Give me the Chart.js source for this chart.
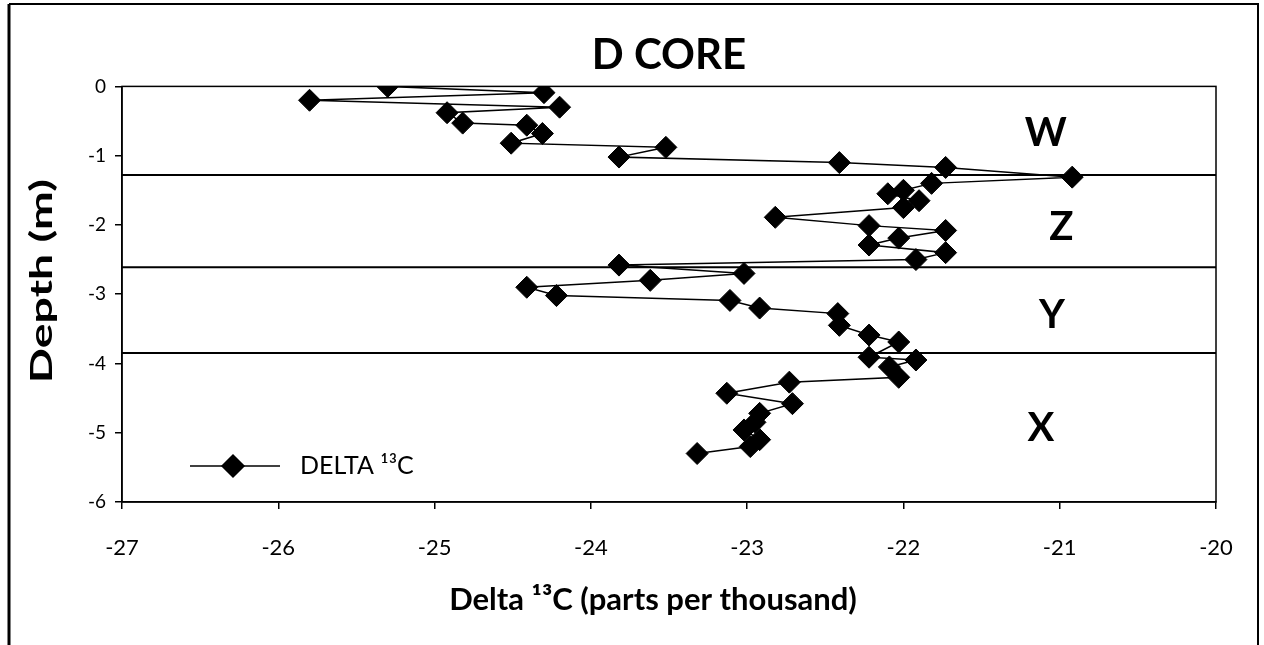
<!DOCTYPE html>
<html>
<head>
<meta charset="utf-8">
<script src="https://cdn.jsdelivr.net/npm/chart.js@4/dist/chart.umd.min.js"></script>
<style>
  html, body { margin: 0; padding: 0; background: #fff; }
  #wrap { width: 1264px; height: 645px; position: relative; }
</style>
</head>
<body>
<div id="wrap"><canvas id="chart" width="1264" height="645"></canvas></div>
<script>
// depth (m) and delta 13C values, read top to bottom
const depth = [0, -0.09, -0.2, -0.3, -0.38, -0.53, -0.56, -0.68, -0.82, -0.88,
  -1.02, -1.10, -1.17, -1.31, -1.40, -1.50, -1.55, -1.65, -1.75, -1.89,
  -2.01, -2.08, -2.19, -2.29, -2.40, -2.50, -2.58, -2.70, -2.80, -2.90,
  -3.02, -3.09, -3.20, -3.28, -3.45, -3.59, -3.69, -3.91, -3.95, -4.05,
  -4.20, -4.27, -4.43, -4.58, -4.72, -4.85, -4.96, -5.10, -5.20, -5.30];
const delta13C = [-25.3, -24.3, -25.8, -24.2, -24.92, -24.82, -24.41, -24.31, -24.51, -23.52,
  -23.82, -22.41, -21.73, -20.92, -21.82, -22.0, -22.1, -21.9, -22.0, -22.82,
  -22.22, -21.73, -22.03, -22.22, -21.73, -21.92, -23.82, -23.02, -23.62, -24.41,
  -24.22, -23.11, -22.92, -22.42, -22.41, -22.22, -22.03, -22.22, -21.92, -22.09,
  -22.03, -22.73, -23.13, -22.71, -22.92, -22.95, -23.02, -22.92, -22.98, -23.32];

// zone boundaries and zone names
const boundaryDepths = [-1.28, -2.61, -3.85];
const zoneNames = ['W', 'Z', 'Y', 'X'];
const zoneDepths = [-0.68, -2.03, -3.30, -4.94];
const zoneX = [-21.09, -20.99, -21.05, -21.12];

const xTicks = [-27, -26, -25, -24, -23, -22, -21, -20];
const yTicks = [0, -1, -2, -3, -4, -5, -6];

const FONT = 'Lato, "Open Sans", sans-serif';

const points = depth.map((d, i) => ({ x: delta13C[i], y: d }));

const boundarySets = boundaryDepths.map((b) => ({
  label: 'boundary',
  data: [{ x: xTicks[0], y: b }, { x: xTicks[xTicks.length - 1], y: b }],
  showLine: true,
  borderColor: '#000',
  borderWidth: 2,
  pointRadius: 0,
  pointHoverRadius: 0,
}));

const decorPlugin = {
  id: 'decor',
  afterDraw(chart) {
    const { ctx, chartArea, scales } = chart;
    ctx.save();
    // plot area box
    ctx.strokeStyle = '#000';
    ctx.lineWidth = 1.5;
    ctx.strokeRect(chartArea.left, chartArea.top, chartArea.right - chartArea.left, chartArea.bottom - chartArea.top);

    // outer frame
    ctx.beginPath();
    ctx.lineWidth = 3;
    ctx.moveTo(9, 645);
    ctx.lineTo(9, 4);
    ctx.stroke();
    ctx.beginPath();
    ctx.lineWidth = 2;
    ctx.moveTo(9, 4);
    ctx.lineTo(1258, 4);
    ctx.lineTo(1258, 645);
    ctx.stroke();

    // zone names
    ctx.fillStyle = '#000';
    ctx.font = 'bold 40px ' + FONT;
    ctx.textAlign = 'center';
    ctx.textBaseline = 'middle';
    zoneNames.forEach((z, i) => {
      ctx.fillText(z, scales.x.getPixelForValue(zoneX[i]), scales.y.getPixelForValue(zoneDepths[i]));
    });

    // axis titles (y one stretched along the axis like the original)
    ctx.font = 'bold 31px ' + FONT;
    ctx.fillText('Delta \u00b9\u00b3C (parts per thousand)', 653, 600);
    ctx.save();
    ctx.translate(42, (chartArea.top + chartArea.bottom) / 2 - 13);
    ctx.rotate(-Math.PI / 2);
    ctx.scale(1.5, 1);
    ctx.fillText('Depth (m)', 0, 0);
    ctx.restore();

    // legend inside plot
    const ly = chartArea.bottom - 36;
    const lx = chartArea.left + 68;
    ctx.beginPath();
    ctx.lineWidth = 1.5;
    ctx.moveTo(lx, ly);
    ctx.lineTo(lx + 90, ly);
    ctx.stroke();
    Chart.helpers.drawPoint(ctx, { pointStyle: 'rectRot', radius: 11, borderWidth: 1 }, lx + 43, ly);
    ctx.fill();
    ctx.font = '25px ' + FONT;
    ctx.textAlign = 'left';
    ctx.fillText('DELTA \u00b9\u00b3C', lx + 110, ly);
    ctx.restore();
  }
};

new Chart(document.getElementById('chart'), {
  type: 'scatter',
  data: {
    datasets: [
      {
        label: 'DELTA \u00b9\u00b3C',
        data: points,
        showLine: true,
        borderColor: '#000',
        borderWidth: 1.5,
        backgroundColor: '#000',
        pointStyle: 'rectRot',
        pointRadius: 11,
        pointBorderWidth: 1,
        pointBorderColor: '#000',
        pointBackgroundColor: '#000',
      },
      ...boundarySets,
    ],
  },
  options: {
    responsive: false,
    animation: false,
    layout: { padding: { left: 10, right: 48, top: 0, bottom: 10 } },
    plugins: {
      legend: { display: false },
      tooltip: { enabled: false },
      title: {
        display: true,
        text: 'D CORE',
        fullSize: false,
        color: '#000',
        font: { family: FONT, size: 42, weight: 'bold', lineHeight: 1.2 },
        padding: { top: 30, bottom: 6 },
      },
    },
    scales: {
      x: {
        type: 'linear',
        min: xTicks[0],
        max: xTicks[xTicks.length - 1],
        afterFit(scale) { scale.height = 133; },
        afterBuildTicks(scale) { scale.ticks = xTicks.map((v) => ({ value: v })); },
        grid: { drawOnChartArea: false, drawTicks: true, tickLength: 7, color: '#000', lineWidth: 1.5 },
        border: { display: true, color: '#000', width: 1.5 },
        ticks: { color: '#000', padding: 26, font: { family: FONT, size: 22 } },
        title: { display: false },
      },
      y: {
        type: 'linear',
        min: yTicks[yTicks.length - 1],
        max: yTicks[0],
        afterFit(scale) { scale.width = 112; },
        afterBuildTicks(scale) { scale.ticks = yTicks.slice().reverse().map((v) => ({ value: v })); },
        grid: { drawOnChartArea: false, drawTicks: true, tickLength: 7, color: '#000', lineWidth: 1.5 },
        border: { display: true, color: '#000', width: 1.5 },
        ticks: { color: '#000', padding: 9, font: { family: FONT, size: 19 } },
        title: { display: false },
      },
    },
  },
  plugins: [decorPlugin],
});
</script>
</body>
</html>
